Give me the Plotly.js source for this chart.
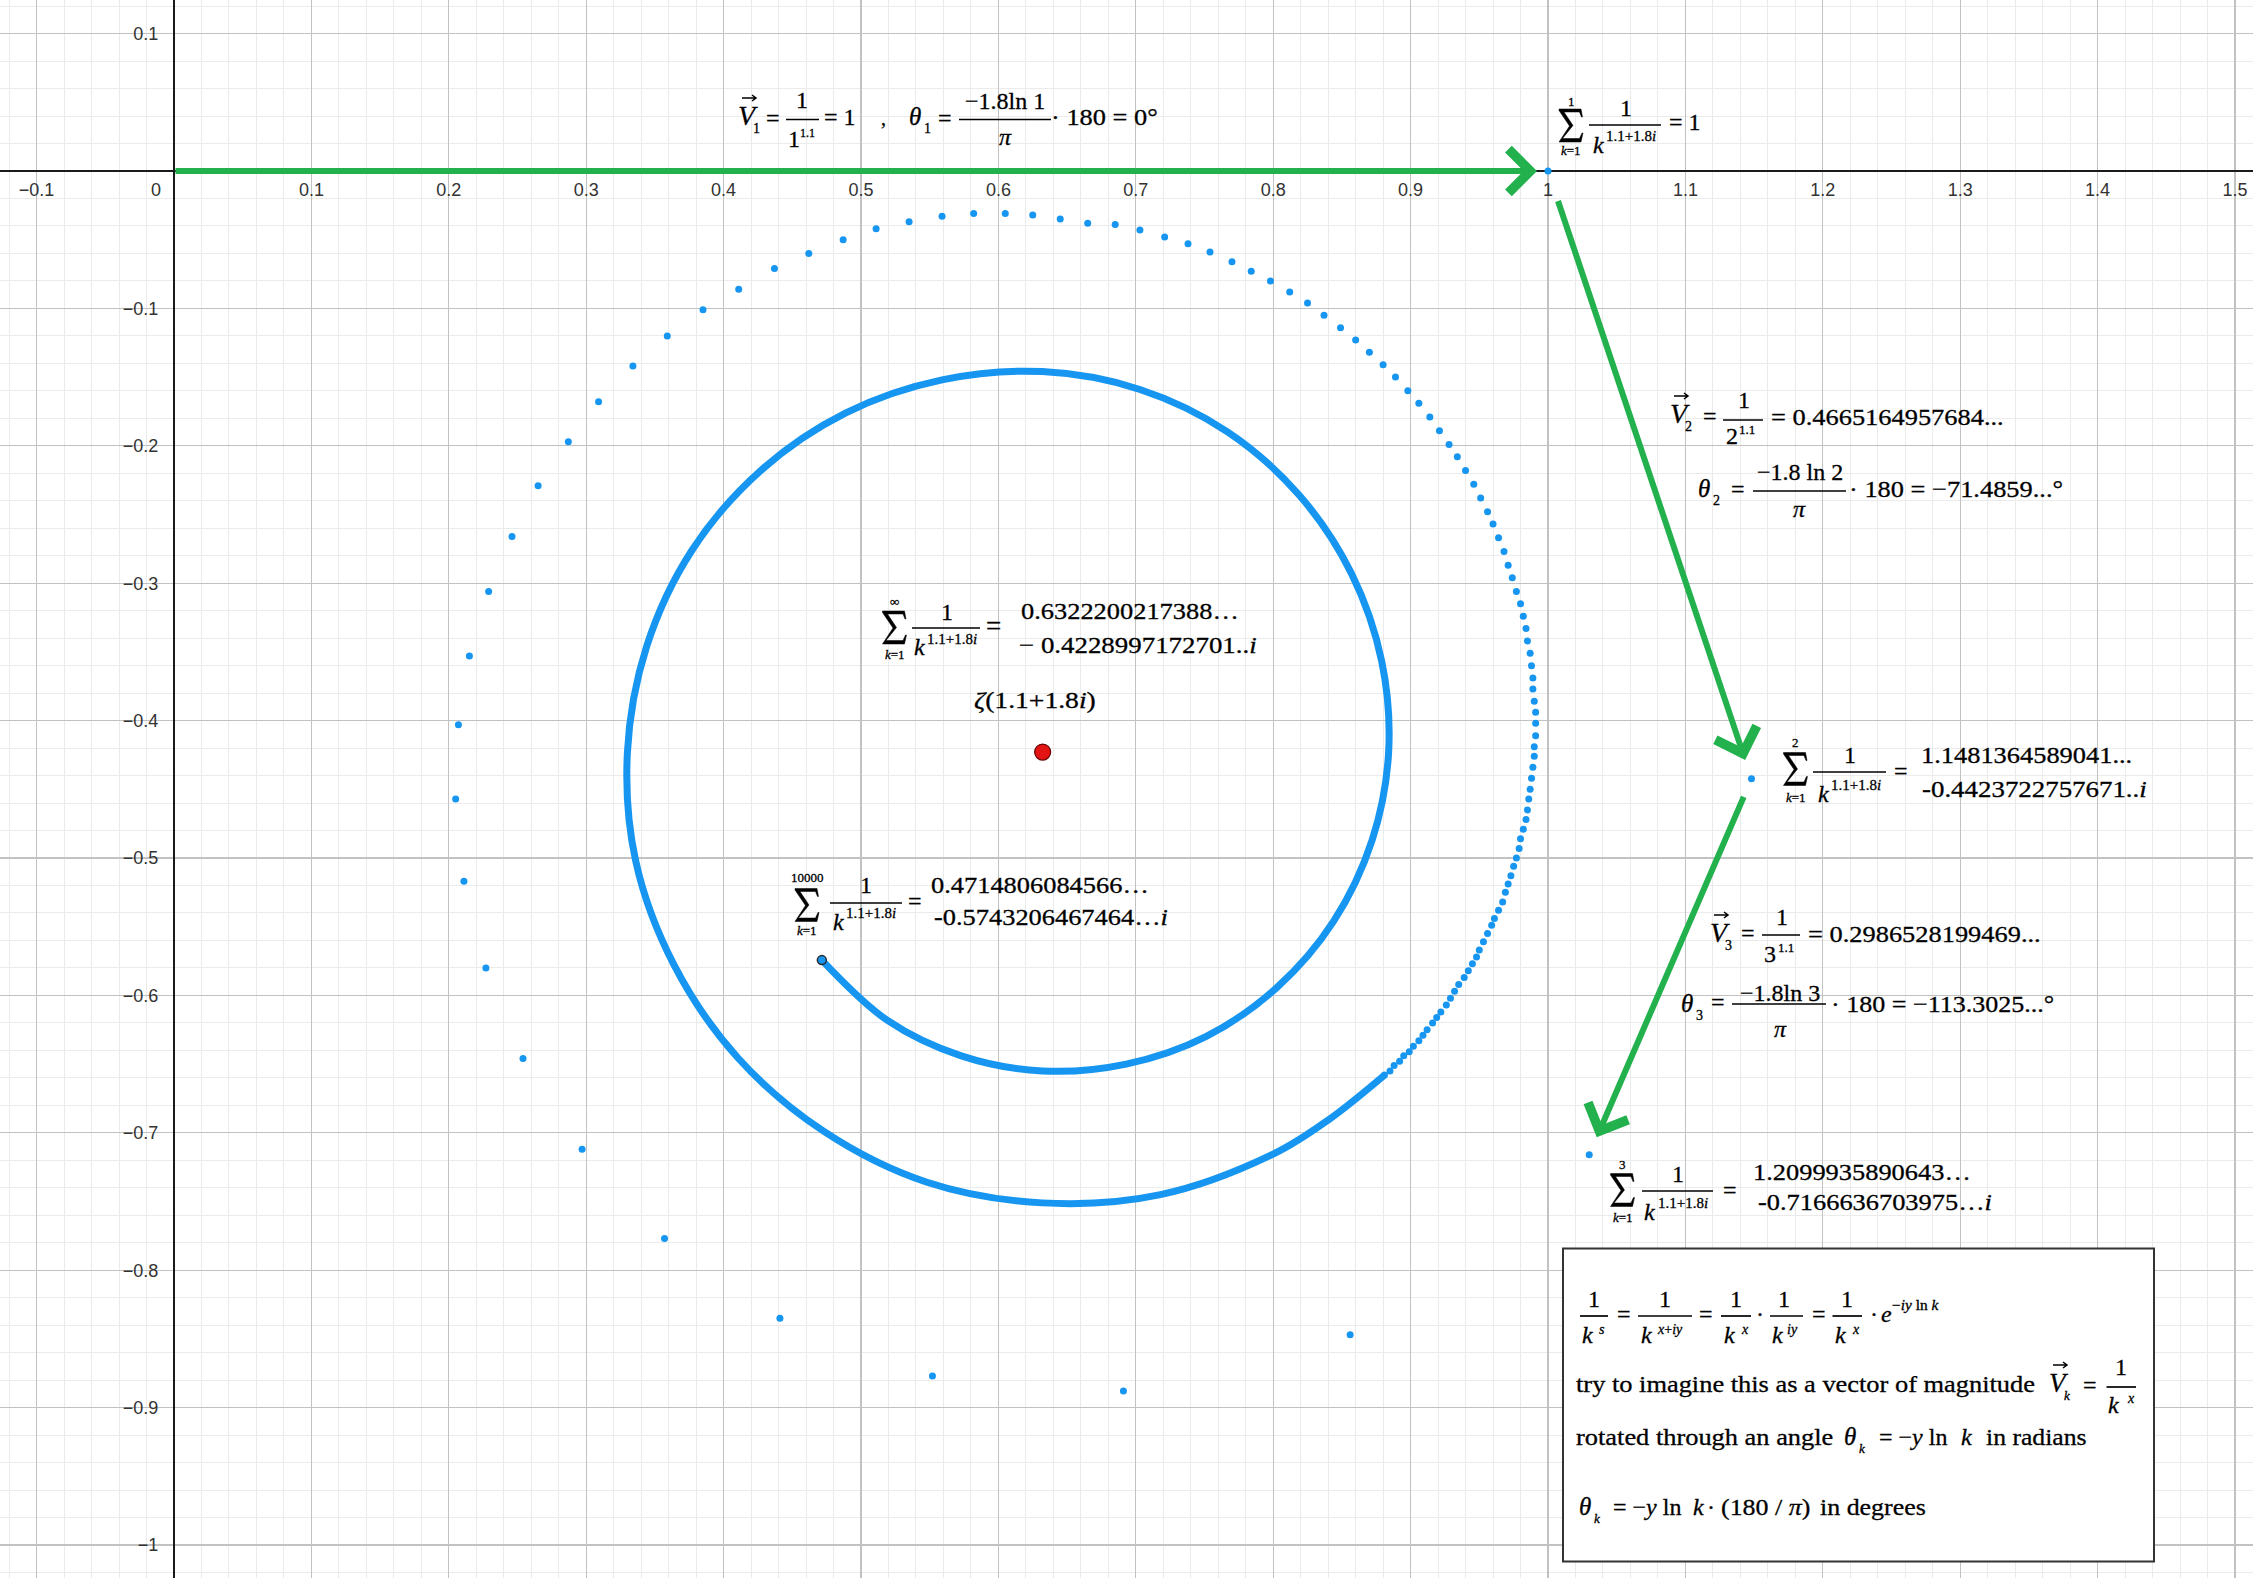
<!DOCTYPE html>
<html>
<head>
<meta charset="utf-8">
<script src="https://cdn.plot.ly/plotly-3.0.1.min.js"></script>
<style>html,body{margin:0;padding:0;background:#fff}</style>
</head>
<body>
<div id="plot" style="width:2253px;height:1578px"></div>
<script>
(function(){
  // ---------- Data ----------
  // partial sums S0 = 0, S1, S2, S3 -> the green vectors
  const sumRe = [0, 1, 1.1481, 1.030];
  const sumIm = [0, 0, -0.4424, -0.716];

  // separate dots S1 .. S123
  const dotRe = [1, 1.1481, 1.030, 0.856, 0.691, 0.552, 0.441, 0.357, 0.297, 0.254,
    0.227, 0.211, 0.205, 0.207, 0.215, 0.229, 0.246, 0.265, 0.287, 0.309,
    0.334, 0.359, 0.385, 0.411, 0.437, 0.462, 0.487, 0.511, 0.535, 0.559,
    0.582, 0.605, 0.625, 0.645, 0.665,
    0.685, 0.703, 0.721, 0.738, 0.754, 0.770, 0.784, 0.798, 0.812, 0.825,
    0.837, 0.849, 0.860, 0.870, 0.880, 0.889, 0.898, 0.906, 0.914, 0.921,
    0.928, 0.934, 0.940, 0.946, 0.951, 0.956, 0.960, 0.964, 0.968, 0.971,
    0.974, 0.977, 0.980, 0.982, 0.984, 0.985, 0.987, 0.988, 0.989, 0.989,
    0.990, 0.991, 0.991, 0.991, 0.990, 0.990, 0.989, 0.988, 0.987, 0.986,
    0.985, 0.984, 0.982, 0.980, 0.979, 0.977, 0.975, 0.973, 0.971, 0.969,
    0.967, 0.964, 0.961, 0.959, 0.956, 0.953, 0.950, 0.948, 0.945, 0.942,
    0.939, 0.935, 0.932, 0.929, 0.926, 0.922, 0.919, 0.916, 0.912, 0.909,
    0.906, 0.902, 0.899, 0.895, 0.892, 0.888, 0.885, 0.881];
  const dotIm = [0, -0.4424, -0.716, -0.847, -0.888, -0.877, -0.835, -0.777, -0.712, -0.646,
    -0.580, -0.517, -0.457, -0.403, -0.353, -0.306, -0.266, -0.229, -0.197, -0.168,
    -0.142, -0.120, -0.101, -0.086, -0.071, -0.060, -0.050, -0.042, -0.037, -0.033,
    -0.031, -0.031, -0.032, -0.035, -0.038,
    -0.039, -0.043, -0.048, -0.053, -0.059, -0.066, -0.073, -0.080, -0.088, -0.096,
    -0.105, -0.114, -0.123, -0.132, -0.141, -0.150, -0.160, -0.169, -0.179, -0.189,
    -0.199, -0.208, -0.218, -0.228, -0.238, -0.248, -0.257, -0.267, -0.277, -0.287,
    -0.296, -0.306, -0.315, -0.324, -0.333, -0.342, -0.351, -0.360, -0.369, -0.377,
    -0.386, -0.394, -0.402, -0.411, -0.419, -0.426, -0.434, -0.442, -0.450, -0.457,
    -0.465, -0.472, -0.479, -0.486, -0.493, -0.500, -0.506, -0.513, -0.519, -0.525,
    -0.532, -0.538, -0.544, -0.549, -0.555, -0.561, -0.567, -0.572, -0.577, -0.582,
    -0.587, -0.592, -0.597, -0.602, -0.607, -0.612, -0.616, -0.620, -0.625, -0.629,
    -0.633, -0.637, -0.641, -0.644, -0.648, -0.651, -0.655, -0.658];

  // where the dots merge into a solid line, spiralling in to S10000
  const curveRe = [0.881, 0.841, 0.801, 0.718, 0.632, 0.548, 0.473, 0.410, 0.364, 0.336, 0.330,
    0.344, 0.377, 0.427, 0.489, 0.559, 0.632, 0.703, 0.767, 0.819, 0.857,
    0.879, 0.884, 0.872, 0.844, 0.803, 0.751, 0.693, 0.632, 0.573, 0.519, 0.4715];
  const curveIm = [-0.658, -0.690, -0.715, -0.745, -0.751, -0.736, -0.699, -0.645, -0.578, -0.502, -0.423,
    -0.346, -0.276, -0.218, -0.176, -0.152, -0.146, -0.159, -0.190, -0.236, -0.293,
    -0.357, -0.423, -0.487, -0.546, -0.594, -0.630, -0.650, -0.655, -0.644, -0.618, -0.5743];

  const endRe = [0.4715], endIm = [-0.5743];       // S10000
  const zetaRe = [0.6322], zetaIm = [-0.4229];     // zeta(1.1+1.8i)

  const xTickVals = [-0.1, 0.1, 0.2, 0.3, 0.4, 0.5, 0.6, 0.7, 0.8, 0.9, 1, 1.1, 1.2, 1.3, 1.4, 1.5];
  const xTickText = ['\u22120.1', '0.1', '0.2', '0.3', '0.4', '0.5', '0.6', '0.7', '0.8', '0.9', '1', '1.1', '1.2', '1.3', '1.4', '1.5'];
  const yTickVals = [0.1, -0.1, -0.2, -0.3, -0.4, -0.5, -0.6, -0.7, -0.8, -0.9, -1];
  const yTickText = ['0.1', '\u22120.1', '\u22120.2', '\u22120.3', '\u22120.4', '\u22120.5', '\u22120.6', '\u22120.7', '\u22120.8', '\u22120.9', '\u22121'];

  // ---------- Frame ----------
  const W = 2253, H = 1578;
  const PX = 1374, X0 = 174, Y0 = 171;      // one unit in px, origin in px
  const xRange = [-X0 / PX, (W - X0) / PX];
  const yRange = [-(H - Y0) / PX, Y0 / PX];
  const BLUE = '#1696f0', GREEN = '#22b14c', INK = '#000';
  const SERIF = 'Liberation Serif';

  // ---------- Formula helpers (positions in px of the picture) ----------
  // the formulas in the picture are pasted images, a little wider than the font:
  // runs marked with st get stretched sideways after drawing
  const ann = [], shp = [], stretch = [];
  const P = (x, y) => (x / W).toFixed(5) + ',' + (1 - y / H).toFixed(5);
  function txt(x, base, s, size, o){
    o = o || {};
    const cy = base - 0.3375 * size;
    stretch[ann.length] = o.st || 1;
    ann.push({
      xref: 'paper', yref: 'paper', x: x / W, y: 1 - cy / H,
      xanchor: o.c ? 'center' : 'left', yanchor: 'middle', align: o.c ? 'center' : 'left',
      text: s, showarrow: false, borderpad: 0,
      font: {family: SERIF, size: size, color: INK}
    });
  }
  function bar(x0, x1, y){
    shp.push({type: 'line', xref: 'paper', yref: 'paper', layer: 'above',
      x0: x0 / W, x1: x1 / W, y0: 1 - y / H, y1: 1 - y / H,
      line: {color: INK, width: 1.7}});
  }
  function arrowOver(xc, y){
    shp.push({type: 'path', xref: 'paper', yref: 'paper', layer: 'above',
      path: 'M' + P(xc - 7, y) + 'L' + P(xc + 7, y) + 'M' + P(xc + 3, y - 3) + 'L' + P(xc + 7, y) + 'L' + P(xc + 3, y + 3),
      line: {color: INK, width: 1.5}});
  }
  function vec(x, base, sub, size, subSize){
    txt(x, base, '<i>V</i>', size || 28);
    arrowOver(x + 12, base - 27);
    txt(x + 15, base + 8, sub, subSize || 14);
  }
  function theta(x, base, sub, subSize){
    txt(x, base, '<i>\u03b8</i>', 25);
    txt(x + 15, base + 8, sub, subSize || 14);
  }
  // summation sign drawn as a filled outline, 24 x 33 px
  const SIG = [[0,0],[22,0],[23.5,8],[22.5,8],[20.5,3],[5,3],[14,16.5],[3.5,29.5],[20.5,29.5],
    [23,24],[24,24],[22,33],[0,33],[10.5,17],[0,1.5]];
  function sig(xc, yc, top, topBase, bot, botBase){
    const d = SIG.map((p, i) => (i ? 'L' : 'M') + P(xc - 12 + p[0], yc - 16.5 + p[1])).join('') + 'Z';
    shp.push({type: 'path', xref: 'paper', yref: 'paper', layer: 'above', path: d,
      fillcolor: INK, line: {color: INK, width: 0.5}});
    txt(xc, topBase, top, 13, {c: 1});
    txt(xc, botBase, bot, 13, {c: 1});
  }
  const F = 24, KI = '1.1+1.8<i>i</i>', ST = {st: 1.1};

  // V1, theta1
  vec(737, 125, '1');
  txt(765, 126.5, '=', F);
  bar(786, 819, 119.5);
  txt(802, 108.5, '1', F, {c: 1});
  txt(787, 147, '1', F); txt(799, 137, '1.1', 12);
  txt(823, 125.5, '= 1', F);
  txt(880, 125, ',', 20);
  theta(908, 125, '1');
  txt(937, 126.5, '=', F);
  bar(959, 1051, 119.5);
  txt(1005, 109, '\u22121.8ln 1', F, {c: 1});
  txt(1005, 145, '<i>\u03c0</i>', F, {c: 1});
  txt(1050, 125, '\u00b7 180 = 0\u00b0', F, ST);

  // sum to 1
  sig(1571, 125.5, '1', 106, '<i>k</i>=1', 155);
  bar(1589, 1661, 125);
  txt(1626, 116, '1', F, {c: 1});
  txt(1592, 153, '<i>k</i>', F); txt(1605, 141, KI, 15);
  txt(1668, 130.5, '= 1', F);

  // V2, theta2
  vec(1669, 423, '2');
  txt(1702, 424.5, '=', F);
  bar(1723, 1763, 420);
  txt(1744, 408, '1', F, {c: 1});
  txt(1725, 444, '2', F); txt(1738, 434, '1.1', 13);
  txt(1770, 425, '= 0.4665164957684...', F, ST);
  theta(1697, 497, '2');
  txt(1730, 497.5, '=', F);
  bar(1753, 1846, 491);
  txt(1800, 480, '\u22121.8 ln 2', F, {c: 1});
  txt(1800, 517, '<i>\u03c0</i>', F, {c: 1});
  txt(1848, 497, '\u00b7 180 = \u221271.4859...\u00b0', F, ST);

  // sum to infinity
  sig(894.5, 627.5, '\u221e', 606, '<i>k</i>=1', 659);
  bar(912, 980, 628);
  txt(947, 620, '1', F, {c: 1});
  txt(913, 655, '<i>k</i>', F); txt(926, 644, KI, 15);
  txt(985, 635.5, '=', 27);
  txt(1020, 619, '0.6322200217388\u2026', F, ST);
  txt(1018, 653, '\u2212 0.4228997172701..<i>i</i>', F, {st: 1.12});
  txt(973, 708, '<i>\u03b6</i>(1.1+1.8<i>i</i>)', F, {st: 1.15});

  // sum to 2
  sig(1795.5, 769, '2', 747, '<i>k</i>=1', 802);
  bar(1813, 1886, 772);
  txt(1850, 763, '1', F, {c: 1});
  txt(1817, 802, '<i>k</i>', F); txt(1830, 790, KI, 15);
  txt(1893, 779, '=', F);
  txt(1920, 763, '1.1481364589041...', F, ST);
  txt(1921, 797, '-0.4423722757671..<i>i</i>', F, {st: 1.12});

  // sum to 10000
  sig(807, 905, '10000', 882, '<i>k</i>=1', 935);
  bar(830, 902, 903);
  txt(866, 893, '1', F, {c: 1});
  txt(832, 930, '<i>k</i>', F); txt(845, 918, KI, 15);
  txt(907, 909, '=', F);
  txt(930, 893, '0.4714806084566\u2026', F, ST);
  txt(933, 925, '-0.5743206467464\u2026<i>i</i>', F, ST);

  // V3, theta3
  vec(1709, 942, '3');
  txt(1740, 941, '=', F);
  bar(1762, 1800, 935);
  txt(1782, 925, '1', F, {c: 1});
  txt(1763, 962, '3', F); txt(1777, 952, '1.1', 13);
  txt(1807, 942, '= 0.2986528199469...', F, ST);
  theta(1680, 1012, '3');
  txt(1710, 1010.5, '=', F);
  bar(1732, 1826, 1004);
  txt(1780, 1001, '\u22121.8ln 3', F, {c: 1});
  txt(1780, 1037, '<i>\u03c0</i>', F, {c: 1});
  txt(1830, 1012, '\u00b7 180 = \u2212113.3025...\u00b0', F, {st: 1.085});

  // sum to 3
  sig(1622.5, 1190, '3', 1169, '<i>k</i>=1', 1222);
  bar(1642, 1713, 1191);
  txt(1677.5, 1182, '1', F, {c: 1});
  txt(1643, 1220, '<i>k</i>', F); txt(1657, 1208, KI, 15);
  txt(1722, 1198, '=', F);
  txt(1752, 1180, '1.2099935890643\u2026', F, ST);
  txt(1757, 1210, '-0.7166636703975\u2026<i>i</i>', F, ST);

  // explanation box
  shp.push({type: 'rect', xref: 'paper', yref: 'paper', layer: 'above',
    x0: 1563 / W, x1: 2154 / W, y0: 1 - 1248.5 / H, y1: 1 - 1561.5 / H,
    fillcolor: '#fff', line: {color: '#333', width: 2}});
  const B = 24, BS = 14;
  function kfrac(x0, x1, numC, denL, sup, supL){
    bar(x0, x1, 1316);
    txt(numC, 1307, '1', B, {c: 1});
    txt(denL, 1343, '<i>k</i>', B);
    txt(supL, 1334, sup, BS);
  }
  kfrac(1580, 1608, 1594, 1581, '<i>s</i>', 1598);
  txt(1615.5, 1322, '=', B);
  kfrac(1638, 1692, 1665, 1640, '<i>x</i>+<i>iy</i>', 1656);
  txt(1698, 1322, '=', B);
  kfrac(1721, 1751, 1736, 1723, '<i>x</i>', 1740);
  txt(1755, 1322, '\u00b7', B);
  kfrac(1770, 1803, 1784, 1770.5, '<i>iy</i>', 1786);
  txt(1810.6, 1322, '=', B);
  kfrac(1832.5, 1862, 1847, 1834, '<i>x</i>', 1851);
  txt(1869, 1322, '\u00b7', B);
  txt(1879.5, 1322, '<i>e</i>', B);
  txt(1891, 1310, '\u2212<i>iy</i> ln <i>k</i>', BS, ST);

  txt(1575, 1392, 'try to imagine this as a vector of magnitude', B, ST);
  vec(2048, 1392, '<i>k</i>', 27, 13);
  txt(2082, 1393, '=', B);
  bar(2106.5, 2136, 1387);
  txt(2121, 1375, '1', B, {c: 1});
  txt(2107, 1413, '<i>k</i>', B); txt(2125.6, 1403, '<i>x</i>', BS);

  txt(1574.5, 1445, 'rotated through an angle', B, ST);
  theta(1843, 1445, '<i>k</i>', 13);
  txt(1877.6, 1445, '= \u2212<i>y</i> ln', B);
  txt(1960, 1445, '<i>k</i>', B);
  txt(1985, 1445, 'in radians', B, {st: 1.07});

  theta(1578, 1515, '<i>k</i>', 13);
  txt(1611.7, 1515, '= \u2212<i>y</i> ln', B);
  txt(1692, 1515, '<i>k</i>', B);
  txt(1706, 1515, '\u00b7', B);
  txt(1720, 1515, '(180 / <i>\u03c0</i>)', B, {st: 1.08});
  txt(1819, 1515, 'in degrees', B, {st: 1.08});

  const formulaCount = ann.length;

  // "0" at the origin
  ann.push({xref: 'paper', yref: 'paper', x: 156 / W, y: 1 - 190 / H, xanchor: 'center', yanchor: 'middle',
    text: '0', showarrow: false, font: {family: 'Liberation Sans', size: 18, color: '#333'}});

  // green vectors S(k-1) -> S(k)
  const headGap = [11, 20, 19], tailGap = [0, 30, 18];
  for (let k = 1; k < sumRe.length; k++){
    ann.push({x: sumRe[k], y: sumIm[k], ax: sumRe[k - 1], ay: sumIm[k - 1],
      xref: 'x', yref: 'y', axref: 'x', ayref: 'y', text: '', showarrow: true,
      arrowhead: 4, arrowsize: 1.4, arrowwidth: 6, arrowcolor: GREEN,
      standoff: headGap[k - 1], startstandoff: tailGap[k - 1]});
  }

  // ---------- Traces ----------
  const traces = [
    {x: curveRe, y: curveIm, mode: 'lines', line: {color: BLUE, width: 7, shape: 'spline', smoothing: 1}, hoverinfo: 'skip'},
    {x: dotRe, y: dotIm, mode: 'markers', marker: {color: BLUE, size: 7}, hoverinfo: 'skip'},
    {x: endRe, y: endIm, mode: 'markers', marker: {color: BLUE, size: 9, line: {color: '#2a2a2a', width: 1.5}}, hoverinfo: 'skip'},
    {x: zetaRe, y: zetaIm, mode: 'markers', marker: {color: '#e31414', size: 16, line: {color: '#6a0000', width: 1.2}}, hoverinfo: 'skip'}
  ];

  const tickFont = {family: 'Liberation Sans', size: 18, color: '#333'};
  const layout = {
    width: W, height: H, margin: {l: 0, r: 0, t: 0, b: 0, pad: 0},
    paper_bgcolor: '#fff', plot_bgcolor: '#fff', showlegend: false,
    xaxis: {
      range: xRange, tickmode: 'array', tickvals: xTickVals, ticktext: xTickText,
      showgrid: true, gridcolor: '#c2c2c2', gridwidth: 1.3,
      minor: {dtick: 0.02, tick0: 0, showgrid: true, gridcolor: '#ebebeb', gridwidth: 1},
      zeroline: true, zerolinecolor: '#1a1a1a', zerolinewidth: 1.6, showline: false,
      anchor: 'free', position: (0 - yRange[0]) / (yRange[1] - yRange[0]),
      ticks: 'outside', ticklen: 2, tickcolor: 'rgba(0,0,0,0)', tickfont: tickFont, fixedrange: true
    },
    yaxis: {
      range: yRange, tickmode: 'array', tickvals: yTickVals, ticktext: yTickText,
      showgrid: true, gridcolor: '#c2c2c2', gridwidth: 1.3,
      minor: {dtick: 0.02, tick0: 0, showgrid: true, gridcolor: '#ebebeb', gridwidth: 1},
      zeroline: true, zerolinecolor: '#1a1a1a', zerolinewidth: 1.6, showline: false,
      anchor: 'free', position: (0 - xRange[0]) / (xRange[1] - xRange[0]), side: 'left',
      ticks: 'outside', ticklen: 12, tickcolor: 'rgba(0,0,0,0)', tickfont: tickFont, fixedrange: true
    },
    annotations: ann, shapes: shp
  };

  Plotly.newPlot('plot', traces, layout, {displayModeBar: false, staticPlot: true}).then(function(gd){
    gd.querySelectorAll('g.annotation').forEach(function(g){
      const i = +g.getAttribute('data-index');
      if (!(i < formulaCount)) return;
      const t = g.querySelector('text.annotation-text');
      if (!t) return;
      // the pasted formulas print a little heavier than the plain font
      t.style.stroke = INK;
      t.style.strokeWidth = '0.3px';
      // and a little wider: stretch the marked runs to their width in the picture
      const f = stretch[i];
      if (!f || f === 1) return;
      t.setAttribute('textLength', (t.getComputedTextLength() * f).toFixed(1));
      t.setAttribute('lengthAdjust', 'spacingAndGlyphs');
    });
  });
})();
</script>
</body>
</html>
